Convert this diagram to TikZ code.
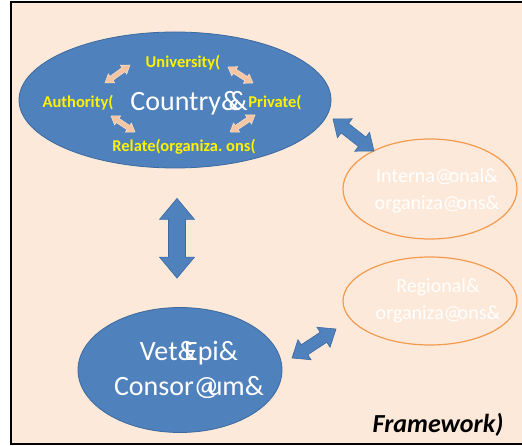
\documentclass[tikz,border=0pt]{standalone}
\usepackage{fontspec}
\setmainfont{Carlito}
\usetikzlibrary{positioning,calc,shapes.geometric}

\definecolor{bgbeige}{HTML}{FDE9DA}
\definecolor{blobblue}{HTML}{4F81BD}
\definecolor{blobline}{HTML}{3C6A9E}
\definecolor{peach}{HTML}{F6C6A3}
\definecolor{ringorange}{HTML}{F29A4E}

% double block arrow between two points:
% #1 style, #2 and #3 ends, #4 head length, #5 half head width, #6 half shaft width
\newcommand{\dblarrow}[6]{%
    \coordinate (h1) at ($(#2)!#4!(#3)$);
    \coordinate (h2) at ($(#3)!#4!(#2)$);
    \filldraw[#1] (#2) -- ($(h1)!#5!90:(#2)$) -- ($(h1)!#6!90:(#2)$)
        -- ($(h2)!#6!-90:(#3)$) -- ($(h2)!#5!-90:(#3)$) -- (#3)
        -- ($(h2)!#5!90:(#3)$) -- ($(h2)!#6!90:(#3)$)
        -- ($(h1)!#6!-90:(#2)$) -- ($(h1)!#5!-90:(#2)$) -- cycle;
}

\tikzset{
    blueblob/.style={ellipse, fill=blobblue, draw=blobline, line width=0.8pt, inner sep=0pt},
    ring/.style={ellipse, fill=bgbeige, draw=ringorange, line width=1.2pt, inner sep=0pt},
    tag/.style={text=yellow, font=\fontsize{16.5}{18}\selectfont\bfseries, inner sep=0pt},
    ringtext/.style={align=center, text=white, font=\fontsize{20}{27}\selectfont},
    bigarrow/.style={fill=blobblue, draw=blobline, line width=0.6pt},
    smallarrow/.style={fill=peach, draw=peach!55!white, line width=0.5pt},
}

\begin{document}
\begin{tikzpicture}[x=1pt, y=-1pt]
    \useasboundingbox (0,0) rectangle (522,446);
    \fill[bgbeige] (11,2) rectangle (522,444);
    \draw[line width=2.4pt] (522,2) -- (11,2) -- (11,444) -- (522,444);

    % country and its members
    \node[blueblob, minimum width=312pt, minimum height=136pt] (c0) at (175,100) {};
    \node[text=white, font=\fontsize{28}{30}\selectfont, inner sep=0pt] (c1) at (189,103) {Country\&\kern-.42em\&};
    \node[tag] (c2) at (183,63) {University(};
    \node[tag] (c3) at (78,103) {Authority(};
    \node[tag] (c4) at (275,103) {Private(};
    \node[tag] (c5) at (184,147) {Relate(organiza.\ ons(};

    % outside partners
    \node[ring, minimum width=174pt, minimum height=100pt] (i1) at (430,189) {};
    \node[ringtext] at ($(i1)+(7,2)$) {Interna@\kern-.2em onal\&\\organiza@\kern-.2em ons\&};
    \node[ring, minimum width=174pt, minimum height=88pt] (r1) at (430,301) {};
    \node[ringtext] at ($(r1)+(8,0)$) {Regional\&\\organiza@\kern-.2em ons\&};

    \node[blueblob, minimum width=204pt, minimum height=125pt] (v1) at (180,370) {};
    \node[align=center, text=white, font=\fontsize{28}{35}\selectfont] at ($(v1)+(9,0)$) {Vet\&\kern-.45em Epi\&\\Consor@\kern-.4em um\&};

    \node[font=\fontsize{26}{28}\selectfont\bfseries\itshape, inner sep=0pt] (f1) at (438,425) {Framework)};

    % arrow ends
    \coordinate (p1) at (105,83);  \coordinate (p2) at (130,65);
    \coordinate (p3) at (228,67);  \coordinate (p4) at (253,83);
    \coordinate (p5) at (111,116); \coordinate (p6) at (135,132);
    \coordinate (p7) at (230,132); \coordinate (p8) at (255,115);
    \coordinate (q1) at ($(c0.south)+(2,30)$);
    \coordinate (q2) at ($(v1.north)+(-3,-29)$);
    \coordinate (q3) at (333,119); \coordinate (q4) at (374,151);
    \coordinate (q5) at (292,358); \coordinate (q6) at (336,329);

    \dblarrow{smallarrow}{p1}{p2}{8pt}{5.5pt}{2.5pt}
    \dblarrow{smallarrow}{p3}{p4}{8pt}{5.5pt}{2.5pt}
    \dblarrow{smallarrow}{p5}{p6}{8pt}{5.5pt}{2.5pt}
    \dblarrow{smallarrow}{p7}{p8}{8pt}{5.5pt}{2.5pt}

    \dblarrow{bigarrow}{q1}{q2}{21pt}{17.5pt}{8.5pt}
    \dblarrow{bigarrow}{q3}{q4}{15pt}{12pt}{6pt}
    \dblarrow{bigarrow}{q5}{q6}{15pt}{12pt}{6pt}
\end{tikzpicture}
\end{document}
